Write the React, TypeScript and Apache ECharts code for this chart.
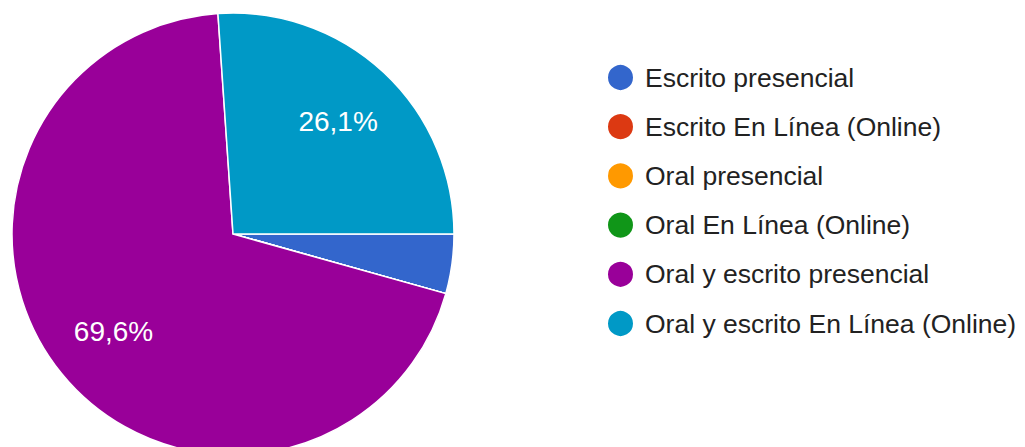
import React, { useEffect, useRef } from "react";
import * as echarts from "echarts";

const categories = [
  "Escrito presencial",
  "Escrito En Línea (Online)",
  "Oral presencial",
  "Oral En Línea (Online)",
  "Oral y escrito presencial",
  "Oral y escrito En Línea (Online)",
];
const values = [1, 0, 0, 0, 16, 6];
const colors = ["#3366cc", "#dc3912", "#ff9900", "#109618", "#990099", "#0099c6"];
const labelShown = [false, false, false, false, true, true];

export default function App() {
  const ref = useRef<HTMLDivElement>(null);
  useEffect(() => {
    if (!ref.current) return;
    const chart = echarts.init(ref.current, null, { renderer: "svg" });
    const total = values.reduce((a, b) => a + b, 0);
    const fmt = (v: number) => ((v / total) * 100).toFixed(1).replace(".", ",") + "%";
    const fontFamily = "'Liberation Sans', Arial, sans-serif";
    chart.setOption({
      animation: false,
      color: colors,
      legend: {
        orient: "vertical",
        left: 601,
        top: 58,
        icon: "circle",
        itemWidth: 27,
        itemHeight: 27,
        itemGap: 20.2,
        data: categories,
        textStyle: {
          fontFamily,
          fontSize: 26.5,
          color: "#222222",
          lineHeight: 27,
          padding: [0, 0, 0, 6],
        },
        selectedMode: false,
      },
      series: [
        {
          type: "pie",
          center: [233, 234],
          radius: [0, 221],
          startAngle: 0,
          clockwise: true,
          silent: true,
          label: { show: false },
          labelLine: { show: false },
          itemStyle: { borderColor: "#ffffff", borderWidth: 1.5 },
          data: categories.map((name, i) => ({
            name,
            value: values[i],
            itemStyle: { color: colors[i] },
          })),
        },
        {
          type: "pie",
          center: [233, 234],
          radius: [81, 221],
          startAngle: 0,
          clockwise: true,
          silent: true,
          z: 3,
          itemStyle: { color: "rgba(0,0,0,0)", borderWidth: 0 },
          labelLine: { show: false },
          data: categories.map((name, i) => ({
            name,
            value: values[i],
            label: {
              show: labelShown[i],
              position: "inside",
              formatter: () => fmt(values[i]),
              color: "#ffffff",
              fontFamily,
              fontSize: 28,
            },
          })),
        },
      ],
    });
    return () => chart.dispose();
  }, []);
  return (
    <div
      ref={ref}
      style={{ position: "fixed", left: 0, top: 0, width: 1025, height: 447, background: "#ffffff" }}
    />
  );
}
